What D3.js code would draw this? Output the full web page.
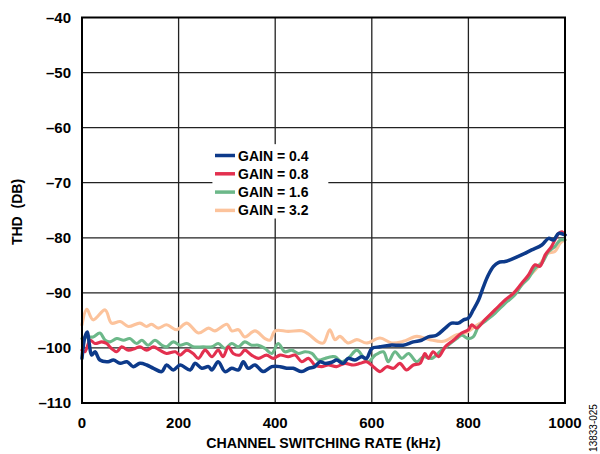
<!DOCTYPE html>
<html>
<head>
<meta charset="utf-8">
<script src="https://cdn.jsdelivr.net/npm/d3@7"></script>
<style>
  body { margin: 0; background: #fff; }
  svg { display: block; font-family: Arial, 'Liberation Sans', sans-serif; }
</style>
</head>
<body>
<svg width="600" height="454"></svg>
<script>
var xTicks = [0, 200, 400, 600, 800, 1000];
var yTicks = [-110, -100, -90, -80, -70, -60, -50, -40];

var gainLabels = ['GAIN = 0.4', 'GAIN = 0.8', 'GAIN = 1.6', 'GAIN = 3.2'];
var gainColors = ['#0d3a8a', '#e3304f', '#6cb889', '#fcc39c'];

// [kHz, THD dB]
var gain04 = [[0,-101.9],[6,-98],[11,-97.1],[15,-99.2],[20,-101.3],[27,-100.7],[37,-102.2],[54,-102.5],[65,-102.2],[79,-102.8],[93,-102.5],[106,-103.4],[120,-102.8],[134,-103.1],[148,-103.7],[165,-104.3],[175,-103.1],[189,-104],[203,-103.1],[224,-104],[234,-102.8],[248,-103.7],[262,-103.4],[269,-104],[282,-102.5],[296,-104.3],[310,-103.7],[324,-104],[334,-102.5],[344,-103.7],[358,-103.1],[375,-104.3],[393,-103.4],[410,-103.4],[424,-103.7],[437,-103.7],[455,-104.3],[469,-103.7],[482,-103.4],[493,-102.5],[503,-102.8],[517,-102.6],[527,-102.2],[541,-102.8],[551,-101.9],[565,-102.2],[579,-101.6],[589,-101.9],[600,-100.1],[617,-99.8],[638,-99.5],[665,-99.5],[686,-98.9],[703,-98.6],[717,-98],[734,-97.7],[752,-96.4],[765,-95.5],[779,-95.5],[790,-94.9],[800,-94.6],[810,-93.1],[821,-91.3],[831,-88.9],[841,-86.8],[852,-85.2],[862,-84.5],[876,-84.3],[889,-83.9],[910,-83.1],[931,-82.2],[952,-81.3],[966,-80.1],[976,-80.4],[987,-79.2],[1000,-79.5]];
var gain08 = [[0,-100.4],[6,-100.7],[17,-98.6],[27,-99.2],[41,-98.9],[51,-99.2],[61,-100.1],[72,-100.7],[82,-99.8],[96,-100.4],[110,-100.1],[120,-99.8],[134,-100.4],[148,-99.8],[161,-100.4],[175,-101],[193,-100.7],[203,-101.3],[217,-100.4],[230,-101],[241,-101.9],[255,-100.4],[269,-101.6],[282,-100.4],[292,-101.6],[303,-99.8],[313,-101],[327,-101.3],[337,-100.4],[351,-101.3],[365,-101.9],[382,-101.3],[396,-101.9],[410,-101.3],[427,-101.6],[441,-101.3],[455,-102.5],[469,-101.9],[482,-103.1],[496,-103.4],[510,-103.1],[527,-103.4],[544,-102.8],[562,-103.1],[576,-102.8],[589,-102.5],[603,-103.4],[617,-104.3],[631,-103.4],[645,-103.7],[658,-102.8],[672,-104],[686,-103.1],[700,-102.8],[710,-101],[717,-101.9],[727,-100.7],[738,-101.6],[752,-99.8],[769,-98.6],[786,-97.3],[800,-96.7],[807,-95.8],[817,-96.4],[834,-94.9],[855,-93.1],[876,-91.3],[893,-90.1],[910,-88.3],[924,-86.8],[938,-84.9],[948,-85.2],[959,-83.1],[972,-81.6],[979,-80.4],[987,-79.2],[994,-78.9],[1000,-79.5]];
var gain16 = [[0,-98.3],[10,-98],[23,-98],[37,-97.3],[48,-98.6],[58,-98.9],[72,-98.3],[86,-98.6],[99,-98.3],[113,-99.2],[124,-98.6],[137,-99.5],[151,-98.6],[165,-99.5],[175,-99.8],[189,-98.9],[203,-99.5],[217,-99.2],[230,-99.8],[251,-99.8],[269,-99.8],[282,-99.2],[296,-100.1],[310,-99.2],[324,-99.8],[337,-98.9],[351,-99.5],[365,-99.5],[379,-100.1],[393,-101],[406,-99.2],[420,-100.7],[434,-100.4],[448,-101],[462,-100.7],[476,-101],[489,-102.2],[503,-101.9],[517,-101.6],[524,-101.6],[538,-102.5],[551,-101.9],[569,-100.4],[582,-101.6],[593,-102.5],[607,-101.3],[624,-100.7],[634,-102.5],[648,-100.7],[662,-101.9],[676,-101],[693,-102.5],[707,-101.6],[724,-101.9],[741,-100.7],[758,-99.5],[776,-98.3],[786,-97.7],[800,-98.3],[810,-98],[821,-96.1],[834,-95.2],[855,-93.7],[876,-91.9],[896,-90.4],[910,-88.6],[924,-87.4],[938,-85.5],[952,-84.6],[966,-82.5],[979,-81.6],[990,-80.4],[1000,-80.4]];
var gain32 = [[0,-95.8],[10,-93],[23,-94.9],[48,-93.1],[61,-95.5],[79,-95.2],[96,-96.1],[120,-95.5],[134,-96.1],[144,-95.7],[158,-96.4],[175,-95.8],[196,-96.7],[217,-95.5],[241,-97.3],[262,-96.4],[275,-96.9],[300,-95.7],[310,-96.9],[324,-96.7],[337,-98],[358,-96.9],[379,-98.3],[389,-98.6],[400,-96.9],[427,-97],[455,-96.9],[469,-97.5],[489,-98.9],[500,-99.1],[513,-96.7],[524,-98.5],[534,-97.9],[551,-99.1],[569,-98.5],[589,-99.1],[617,-98.2],[641,-99.1],[665,-98.8],[693,-97.9],[720,-98.5],[748,-98.8],[776,-97.6],[793,-97.3],[814,-96.1],[834,-94.9],[855,-93.1],[876,-91.6],[896,-89.8],[910,-88.6],[924,-87.1],[938,-85.9],[952,-84.3],[965,-82.8],[979,-82.5],[990,-81],[1000,-80.4]];

var series = [gain04, gain08, gain16, gain32];

function fmt(d) { return String(d).replace('-', '\u2013'); }

function drawChart() {
  'use strict';
  var svg = d3.select('svg');
  var margin = {top: 17.5, left: 82, right: 35, bottom: 51};
  var width = 600 - margin.left - margin.right;
  var height = 454 - margin.top - margin.bottom;

  var x = d3.scaleLinear().domain([0, 1000]).range([0, width]);
  var y = d3.scaleLinear().domain([-110, -40]).range([height, 0]);

  var g = svg.append('g')
    .attr('transform', 'translate(' + [margin.left, margin.top] + ')');

  // grid
  g.selectAll('.gx').data(xTicks.slice(1, -1)).enter()
    .append('line')
    .attr('x1', function (d) { return x(d); })
    .attr('x2', function (d) { return x(d); })
    .attr('y1', 0).attr('y2', height)
    .style('stroke', '#222').style('stroke-width', '1.3px');
  g.selectAll('.gy').data(yTicks.slice(1, -1)).enter()
    .append('line')
    .attr('y1', function (d) { return y(d); })
    .attr('y2', function (d) { return y(d); })
    .attr('x1', 0).attr('x2', width)
    .style('stroke', '#222').style('stroke-width', '1.3px');

  // legend background hides the grid
  g.append('rect')
    .attr('x', x(270)).attr('y', y(-63))
    .attr('width', x(240)).attr('height', y(-76.5) - y(-63))
    .style('fill', '#fff');

  var line = d3.line()
    .x(function (d) { return x(d[0]); })
    .y(function (d) { return y(d[1]); })
    .curve(d3.curveCatmullRom.alpha(0.5));

  var order = [3, 2, 1, 0];
  g.selectAll('.series').data(order).enter()
    .append('path')
    .attr('d', function (i) { return line(series[i]); })
    .style('fill', 'none')
    .style('stroke', function (i) { return gainColors[i]; })
    .style('stroke-width', function (i) { return i === 0 ? '3.5px' : '3.1px'; })
    .style('stroke-linejoin', 'round')
    .style('stroke-linecap', 'round');

  // frame
  g.append('rect')
    .attr('width', width).attr('height', height)
    .style('fill', 'none').style('stroke', '#000').style('stroke-width', '2px');

  // tick labels
  g.selectAll('.xl').data(xTicks).enter()
    .append('text')
    .attr('x', function (d) { return x(d); })
    .attr('y', height + 25)
    .attr('text-anchor', 'middle')
    .style('font-size', '15px').style('font-weight', 'bold')
    .text(function (d) { return d; });
  g.selectAll('.yl').data(yTicks).enter()
    .append('text')
    .attr('x', -11)
    .attr('y', function (d) { return y(d) + 5; })
    .attr('text-anchor', 'end')
    .style('font-size', '15px').style('font-weight', 'bold')
    .text(fmt);

  // legend
  var leg = g.selectAll('.leg').data(gainLabels).enter()
    .append('g')
    .attr('transform', function (d, i) { return 'translate(' + [133, 138 + i * 18.3] + ')'; });
  leg.append('line')
    .attr('x1', 0).attr('x2', 20)
    .style('stroke', function (d, i) { return gainColors[i]; })
    .style('stroke-width', '3.5px');
  leg.append('text')
    .attr('x', 23).attr('y', 5)
    .style('font-size', '14px').style('font-weight', 'bold')
    .text(function (d) { return d; });

  // axis titles
  svg.append('text')
    .attr('x', margin.left + width / 2).attr('y', 448)
    .attr('text-anchor', 'middle')
    .style('font-size', '14.2px').style('font-weight', 'bold')
    .text('CHANNEL SWITCHING RATE (kHz)');
  svg.append('text')
    .attr('transform', 'translate(22,212) rotate(-90)')
    .attr('text-anchor', 'middle')
    .style('font-size', '14px').style('font-weight', 'bold')
    .style('white-space', 'pre')
    .text('THD  (DB)');
  svg.append('text')
    .attr('transform', 'translate(597,428) rotate(-90)')
    .attr('text-anchor', 'middle')
    .style('font-size', '10px')
    .text('13833-025');
}

drawChart();
</script>
</body>
</html>
